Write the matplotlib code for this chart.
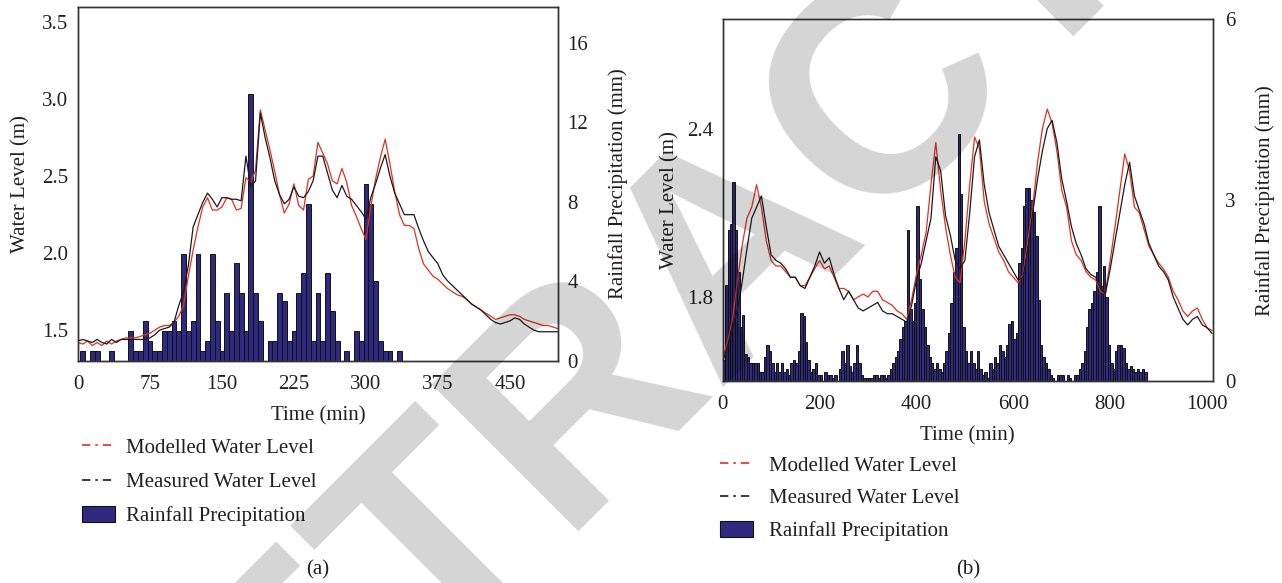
import matplotlib
matplotlib.use("Agg")
import matplotlib.pyplot as plt
from matplotlib.lines import Line2D
from matplotlib.patches import Patch
from matplotlib.ticker import FormatStrFormatter

plt.rcParams['font.family'] = ['Liberation Serif', 'DejaVu Serif']
plt.rcParams['font.size'] = 15

# ---------------- Event (a) ----------------
time_a = list(range(0, 505, 5))
measured_a = [1.43, 1.44, 1.43, 1.42, 1.44, 1.42, 1.41, 1.44, 1.42, 1.44,
              1.44, 1.44, 1.44, 1.44, 1.44, 1.45, 1.47, 1.50, 1.51, 1.52,
              1.55, 1.66, 1.75, 1.92, 2.17, 2.25, 2.33, 2.39, 2.35, 2.30,
              2.36, 2.36, 2.35, 2.35, 2.34, 2.63, 2.43, 2.47, 2.91, 2.75,
              2.62, 2.47, 2.38, 2.32, 2.35, 2.43, 2.37, 2.36, 2.40, 2.47,
              2.63, 2.63, 2.52, 2.41, 2.36, 2.44, 2.37, 2.35, 2.31, 2.27,
              2.22, 2.36, 2.45, 2.55, 2.64, 2.50, 2.39, 2.32, 2.25, 2.25,
              2.25, 2.16, 2.08, 2.01, 1.97, 1.93, 1.86, 1.82, 1.79, 1.76,
              1.73, 1.70, 1.67, 1.65, 1.63, 1.60, 1.57, 1.55, 1.54, 1.55,
              1.56, 1.58, 1.57, 1.54, 1.52, 1.50, 1.49, 1.49, 1.49, 1.49,
              1.49]
modelled_a = [1.42, 1.41, 1.43, 1.40, 1.42, 1.40, 1.43, 1.41, 1.43, 1.44,
              1.45, 1.45, 1.45, 1.46, 1.47, 1.48, 1.50, 1.52, 1.53, 1.53,
              1.55, 1.59, 1.66, 1.85, 2.02, 2.17, 2.30, 2.36, 2.28, 2.28,
              2.30, 2.36, 2.35, 2.28, 2.29, 2.49, 2.46, 2.54, 2.93, 2.80,
              2.67, 2.53, 2.38, 2.26, 2.32, 2.45, 2.31, 2.28, 2.48, 2.50,
              2.72, 2.65, 2.58, 2.47, 2.45, 2.55, 2.46, 2.31, 2.24, 2.16,
              2.09, 2.30, 2.48, 2.62, 2.74, 2.58, 2.40, 2.25, 2.18, 2.18,
              2.16, 2.03, 1.93, 1.89, 1.85, 1.83, 1.80, 1.77, 1.75, 1.73,
              1.72, 1.70, 1.67, 1.65, 1.63, 1.61, 1.59, 1.57, 1.58, 1.59,
              1.60, 1.60, 1.59, 1.57, 1.56, 1.55, 1.54, 1.53, 1.53, 1.52,
              1.51]
rain_time_a = list(range(5, 340, 5))
rain_a = [0.5, 0.0, 0.5, 0.5, 0.0, 0.0, 0.5, 0.0, 0.0, 0.0,
          1.5, 0.5, 0.5, 2.0, 1.0, 0.5, 0.5, 1.5, 1.5, 2.0,
          1.5, 5.4, 1.5, 2.0, 5.4, 0.5, 1.0, 5.4, 2.0, 0.5,
          3.4, 1.5, 4.9, 3.4, 1.5, 13.4, 3.4, 2.0, 0.0, 1.0,
          1.0, 3.4, 3.0, 1.0, 1.5, 3.4, 4.4, 7.9, 1.0, 3.4,
          1.0, 4.4, 2.5, 1.0, 0.0, 0.5, 0.0, 1.5, 1.0, 8.9,
          7.9, 4.0, 1.0, 0.5, 0.5, 0.0, 0.5]
xticks_a = [0, 75, 150, 225, 300, 375, 450]
wl_ticks_a = [1.5, 2.0, 2.5, 3.0, 3.5]
rain_ticks_a = [0, 4, 8, 12, 16]

# ---------------- Event (b) ----------------
time_b = list(range(0, 1020, 10))
measured_b = [1.57, 1.62, 1.68, 1.75, 1.85, 1.97, 2.08, 2.12, 2.16, 2.05,
              1.95, 1.93, 1.92, 1.90, 1.87, 1.87, 1.84, 1.83, 1.87, 1.91,
              1.96, 1.92, 1.94, 1.88, 1.83, 1.79, 1.82, 1.79, 1.76, 1.75,
              1.76, 1.77, 1.78, 1.75, 1.74, 1.74, 1.73, 1.72, 1.71, 1.77,
              1.86, 1.92, 2.00, 2.08, 2.30, 2.25, 2.09, 2.02, 1.93, 1.90,
              1.93, 2.10, 2.30, 2.36, 2.20, 2.10, 2.04, 1.98, 1.95, 1.92,
              1.89, 1.86, 1.87, 1.97, 2.10, 2.22, 2.32, 2.40, 2.43, 2.35,
              2.22, 2.14, 2.05, 1.99, 1.95, 1.90, 1.88, 1.87, 1.83, 1.81,
              1.90, 2.00, 2.10, 2.20, 2.28, 2.16, 2.11, 2.06, 1.99, 1.95,
              1.91, 1.89, 1.86, 1.80, 1.76, 1.72, 1.70, 1.72, 1.73, 1.70,
              1.69, 1.67]
modelled_b = [1.58, 1.64, 1.72, 1.85, 1.98, 2.08, 2.12, 2.20, 2.12, 2.00,
              1.93, 1.91, 1.91, 1.89, 1.87, 1.87, 1.84, 1.84, 1.87, 1.90,
              1.93, 1.90, 1.91, 1.87, 1.83, 1.83, 1.82, 1.79, 1.80, 1.81,
              1.80, 1.82, 1.82, 1.79, 1.78, 1.77, 1.75, 1.74, 1.72, 1.79,
              1.88, 1.95, 2.03, 2.20, 2.35, 2.18, 2.05, 1.95, 1.87, 1.85,
              2.00, 2.20, 2.37, 2.33, 2.14, 2.06, 2.01, 1.96, 1.93, 1.89,
              1.87, 1.85, 1.88, 2.00, 2.12, 2.28, 2.40, 2.47, 2.42, 2.32,
              2.18, 2.12, 2.00, 1.95, 1.93, 1.89, 1.87, 1.86, 1.82, 1.81,
              1.93, 2.05, 2.18, 2.31, 2.25, 2.12, 2.10, 2.04, 1.98, 1.95,
              1.92, 1.90, 1.87, 1.82, 1.79, 1.75, 1.73, 1.75, 1.76, 1.72,
              1.69, 1.68]
rain_time_b = list(range(0, 875, 5))
rain_b = [0.35, 1.6, 2.5, 2.6, 3.3, 2.5, 1.8, 0.9, 1.1, 0.45,
          0.4, 0.3, 0.3, 0.3, 0.3, 0.15, 0.15, 0.4, 0.6, 0.5,
          0.3, 0.15, 0.3, 0.15, 0.3, 0.15, 0.2, 0.1, 0.3, 0.35,
          0.3, 0.5, 1.13, 1.07, 0.65, 0.35, 0.15, 0.2, 0.3, 0.1,
          0.1, 0.0, 0.15, 0.1, 0.1, 0.05, 0.1, 0.0, 0.2, 0.5,
          0.3, 0.6, 0.25, 0.15, 0.3, 0.6, 0.3, 0.1, 0.05, 0.05,
          0.05, 0.05, 0.1, 0.1, 0.05, 0.1, 0.1, 0.05, 0.1, 0.2,
          0.3, 0.4, 0.5, 0.7, 0.9, 1.0, 2.5, 1.2, 1.0, 1.3,
          2.9, 1.7, 1.2, 0.9, 0.6, 0.4, 0.3, 0.2, 0.3, 0.2,
          0.15, 0.3, 0.5, 0.8, 1.3, 1.8, 2.2, 4.1, 3.1, 0.9,
          0.5, 0.3, 0.5, 0.3, 0.2, 0.5, 0.2, 0.1, 0.15, 0.05,
          0.3, 0.2, 0.4, 0.3, 0.6, 0.5, 0.4, 0.6, 0.95, 1.0,
          0.7, 0.8, 1.96, 2.2, 2.9, 3.2, 3.2, 3.0, 2.8, 2.4,
          1.35, 0.6, 0.4, 0.3, 0.2, 0.1, 0.05, 0.0, 0.1, 0.1,
          0.1, 0.0, 0.1, 0.05, 0.0, 0.1, 0.1, 0.2, 0.3, 0.5,
          0.9, 1.2, 1.3, 1.5, 1.8, 2.9, 1.57, 1.9, 1.4, 0.6,
          0.3, 0.2, 0.5, 0.6, 0.6, 0.55, 0.3, 0.2, 0.25, 0.2,
          0.15, 0.2, 0.15, 0.2, 0.15]
xticks_b = [0, 200, 400, 600, 800, 1000]
wl_ticks_b = [1.8, 2.4]
rain_ticks_b = [0, 3, 6]

RED = '#e2301f'
BLACK = '#1a1a1a'
BAR = '#2f2a80'
SPINE = '#333333'
TEXT = '#231f20'

fig = plt.figure(figsize=(12.82, 5.83), dpi=100)


def panel(rect, t, meas, mod, rt, rain, bar_align, xlim, xticks,
          ylim, yticks, rlim, rticks, lpad, rpad, rtick_pad):
    ax = fig.add_axes(rect)
    ax2 = ax.twinx()
    ax2.bar(rt, rain, width=5, align=bar_align, color=BAR,
            edgecolor='#111111', linewidth=0.7, zorder=1)
    ax2.set_ylim(*rlim)
    ax2.set_yticks(rticks)
    ax2.set_ylabel('Rainfall Precipitation (mm)', labelpad=rpad, color=TEXT)
    ax.set_zorder(ax2.get_zorder() + 1)
    ax.patch.set_visible(False)
    ax.plot(t, mod, color=RED, lw=0.9)
    ax.plot(t, meas, color=BLACK, lw=0.9)
    ax.set_xlim(*xlim)
    ax.set_xticks(xticks)
    ax.set_ylim(*ylim)
    ax.set_yticks(yticks)
    ax.yaxis.set_major_formatter(FormatStrFormatter('%.1f'))
    ax.set_ylabel('Water Level (m)', labelpad=lpad, color=TEXT)
    ax.set_xlabel('Time (min)', labelpad=9, color=TEXT)
    for a in (ax, ax2):
        a.tick_params(length=0, pad=7, labelsize=15, colors=TEXT)
        for s in a.spines.values():
            s.set_color(SPINE)
            s.set_linewidth(1.0)
    ax.tick_params(axis='x', pad=10)
    ax2.tick_params(axis='y', pad=rtick_pad)
    return ax


panel([0.0608, 0.3808, 0.3744, 0.6077], time_a, measured_a, modelled_a,
      rain_time_a, rain_a, 'center', (0, 500), xticks_a,
      (1.3, 3.6), wl_ticks_a, (0, 17.8), rain_ticks_a, 8.5, 14, 7)

panel([0.5637, 0.3465, 0.3824, 0.6204], time_b, measured_b, modelled_b,
      rain_time_b, rain_b, 'edge', (0, 1012), xticks_b,
      (1.5, 2.79), wl_ticks_b, (0, 6), rain_ticks_b, 5, 14, 9)

handles = [Line2D([], [], color=RED, lw=1.2, ls=(0, (5, 3, 1.5, 3))),
           Line2D([], [], color=BLACK, lw=1.2, ls=(0, (5, 3, 1.5, 3))),
           Patch(facecolor=BAR, edgecolor='#111111', linewidth=0.8)]
labels = ['Modelled Water Level', 'Measured Water Level', 'Rainfall Precipitation']
for anchor, pad, sp in [((0.064, 0.249), 0.5, 0.67), ((0.5616, 0.219), 0.75, 0.6)]:
    leg = fig.legend(handles, labels, loc='upper left', bbox_to_anchor=anchor,
                     frameon=False, fontsize=15, handlelength=1.6,
                     handleheight=0.8, handletextpad=pad, labelspacing=sp,
                     borderpad=0, borderaxespad=0)
    for txt in leg.get_texts():
        txt.set_color(TEXT)

fig.text(318 / 1282, 1 - 570 / 583, '(a)', ha='center', va='center',
         fontsize=15, color=TEXT)
fig.text(968 / 1282, 1 - 570 / 583, '(b)', ha='center', va='center',
         fontsize=15, color=TEXT)

fig.text(0.6162, 0.4837, 'RETRACTED', rotation=45, rotation_mode='anchor',
         ha='center', va='baseline', fontsize=216, fontweight='bold',
         family='Liberation Sans', color='black', alpha=0.17, zorder=10)

fig.savefig('out.png', dpi=100)
